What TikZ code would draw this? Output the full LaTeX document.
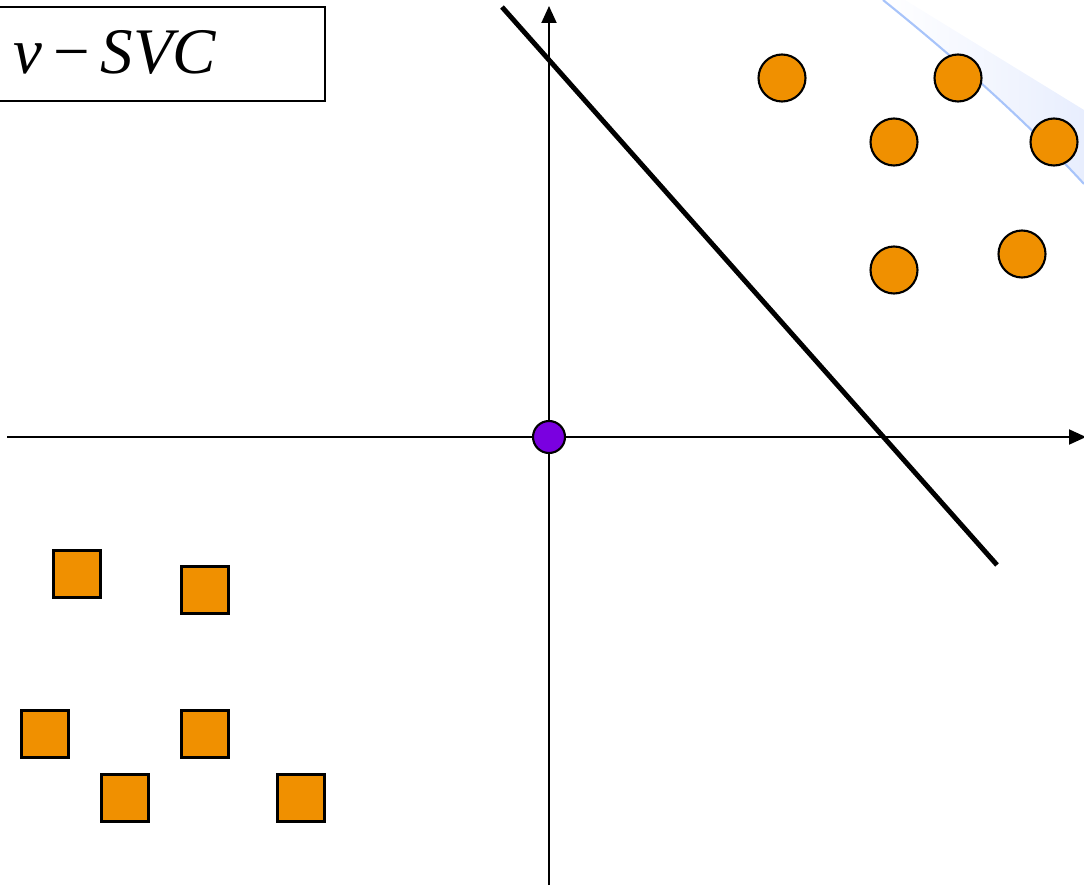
\documentclass[tikz,border=0pt]{standalone}
\usepackage{fontspec}
\setmainfont{Liberation Serif}
\usetikzlibrary{arrows.meta}
\definecolor{dotorange}{HTML}{F09000}
\definecolor{originpurple}{HTML}{7A00E0}
\definecolor{marginblue}{HTML}{A8C4FA}
\definecolor{shadeblue}{HTML}{E8EEFE}
\tikzset{
  axis/.style={line width=1.1pt,-{Triangle[length=0.34cm,width=0.3cm]}},
  dotpt/.style={circle,draw=black,line width=1.2pt,fill=dotorange,minimum size=0.94cm,inner sep=0pt},
  sqpt/.style={rectangle,draw=black,line width=1.2pt,fill=dotorange,minimum size=0.94cm,inner sep=0pt},
  originpt/.style={circle,draw=black,line width=1.2pt,fill=originpurple,minimum size=0.64cm,inner sep=0pt},
  sepline/.style={line width=2.8pt,line cap=butt},
}
\begin{document}
\begin{tikzpicture}[x=0.02cm,y=-0.02cm]
\useasboundingbox (0,0) rectangle (1084,885);
% shaded margin band
\shade[left color=white,right color=shadeblue]
  (883,0) .. controls (960,62) and (1030,125) .. (1084,184) -- (1084,110) -- (905,0) -- cycle;
\draw[marginblue,line width=1.2pt] (883,0) .. controls (960,62) and (1030,125) .. (1084,184);
% axes
\coordinate (xs) at (7,437);
\coordinate (xe) at (1086,437);
\coordinate (ys) at (549,885);
\coordinate (ye) at (549,6);
\draw[axis] (xs) -- (xe);
\draw[axis] (ys) -- (ye);
% separating line
\coordinate (ls) at (502,7);
\coordinate (le) at (997,565);
\draw[sepline] (ls) -- (le);
% origin
\node[originpt] (o) at (549,437) {};
% circles
\node[dotpt] (c1) at (782,78) {};
\node[dotpt] (c2) at (958,78) {};
\node[dotpt] (c3) at (894,142) {};
\node[dotpt] (c4) at (1054,142) {};
\node[dotpt] (c5) at (894,270) {};
\node[dotpt] (c6) at (1022,254) {};
% squares
\node[sqpt] (s1) at (77,574) {};
\node[sqpt] (s2) at (205,590) {};
\node[sqpt] (s3) at (45,734) {};
\node[sqpt] (s4) at (205,734) {};
\node[sqpt] (s5) at (125,798) {};
\node[sqpt] (s6) at (301,798) {};
% title box
\node[draw=black,line width=1.2pt,minimum width=6.6cm,minimum height=1.88cm,inner sep=0pt] (box) at (160,54) {};
\node[inner sep=0pt,font=\fontsize{37}{44}\selectfont] (title) at (115,52) {\textit{ν}\,−\,\textit{SVC}};
\end{tikzpicture}
\end{document}
